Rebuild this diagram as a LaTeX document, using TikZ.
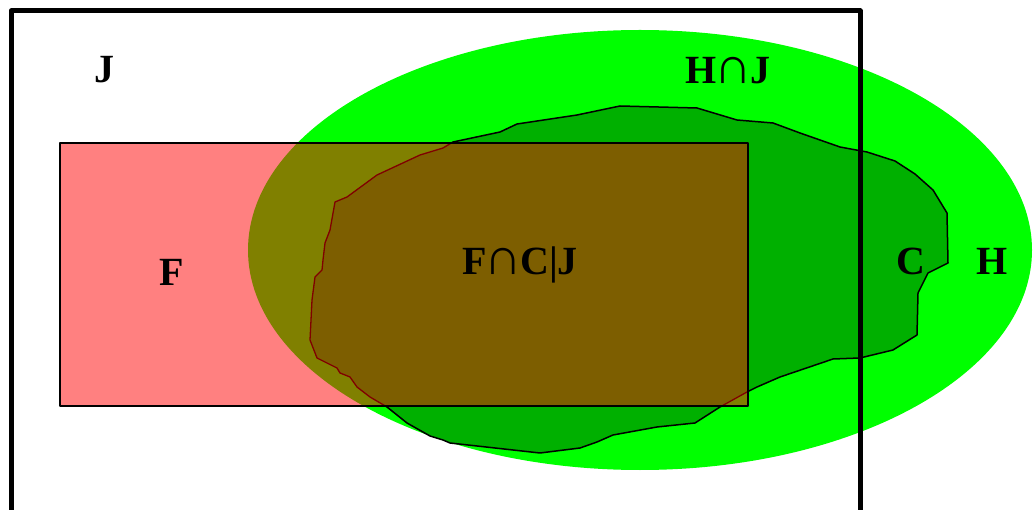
\documentclass[tikz,border=0pt]{standalone}
\usepackage{fontspec}
\setmainfont{Liberation Serif}
\definecolor{hgreen}{RGB}{0,255,0}
\definecolor{cgreen}{RGB}{0,176,0}
\definecolor{fpink}{RGB}{255,128,128}
\definecolor{fholive}{RGB}{128,128,0}
\definecolor{fcbrown}{RGB}{125,94,0}
\definecolor{cedge}{RGB}{128,0,0}
\newcommand{\mycap}{\kern-2pt\scalebox{1.3}{\mdseries ∩}\kern-2pt}
\tikzset{
  lbl/.style={inner sep=0pt, anchor=base, font=\fontsize{40}{48}\selectfont\bfseries},
}
\def\blob{(453,142) -- (500,132) -- (517,124) -- (577,115) -- (620,106) -- (697,108) -- (737,120) -- (773,123) -- (800,133) -- (840,147) -- (867,152) -- (895,161) -- (915,174) -- (933,190) -- (947,213) -- (948,263) -- (928,273) -- (918,293) -- (917,335) -- (893,350) -- (860,358) -- (833,359) -- (780,377) -- (757,387) -- (747,392) -- (720,407) -- (695,423) -- (657,427) -- (613,435) -- (597,442) -- (580,448) -- (540,453) -- (450,443) -- (443,440) -- (430,436) -- (407,423) -- (387,407) -- (370,397) -- (357,387) -- (350,377) -- (340,373) -- (337,368) -- (317,358) -- (310,340) -- (312,300) -- (315,277) -- (322,270) -- (323,260) -- (325,243) -- (330,230) -- (335,202) -- (347,197) -- (377,175) -- (420,155) -- (443,148) -- cycle}
\begin{document}
\begin{tikzpicture}[x=1pt,y=-1pt,line join=round]
\useasboundingbox (0,0) rectangle (1033,510);
% H ellipse
\fill[hgreen] (640,250) ellipse [x radius=392, y radius=220];
% C blob
\fill[cgreen] \blob;
\draw[black, line width=1.5pt] \blob;
% F rectangle
\fill[fpink] (60,143) rectangle (748,406);
\begin{scope}
  \clip (60,143) rectangle (748,406);
  \fill[fholive] (640,250) ellipse [x radius=392, y radius=220];
  \fill[fcbrown] \blob;
  \draw[cedge, line width=1.3pt] \blob;
\end{scope}
\draw[black, line width=1.2pt] (60,143) rectangle (748,406);
% J rectangle
\draw[black, line width=5pt] (11,11) rectangle (860,540);
% labels
\node[lbl] (lJ) at (104,83) {J};
\node[lbl] (lHJ) at (728,84) {H\mycap J};
\node[lbl] (lF) at (172,286) {F};
\node[lbl] (lFCJ) at (520,275) {F\mycap C|J};
\node[lbl] (lC) at (911,275) {C};
\node[lbl] (lH) at (992,275) {H};
\end{tikzpicture}
\end{document}
